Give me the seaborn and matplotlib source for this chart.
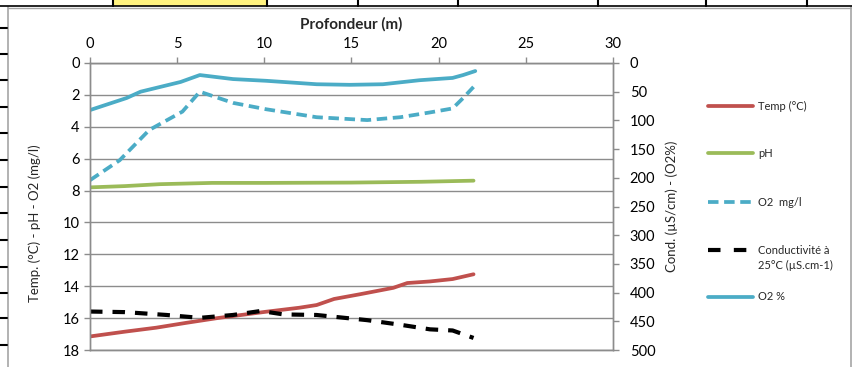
import matplotlib
matplotlib.use("Agg")
import matplotlib.pyplot as plt
import seaborn as sns
from matplotlib.lines import Line2D
from matplotlib.patches import Rectangle

# ---------------- data ----------------
depth_temp = [0, 2, 3.8, 5.5, 7.3, 10.1, 12, 13, 14, 15.5, 17.4, 18.2, 19.5, 20.8, 22]
temp = [17.15, 16.85, 16.6, 16.3, 16.0, 15.6, 15.35, 15.18, 14.8, 14.5, 14.1, 13.8, 13.7, 13.55, 13.25]

depth_ph = [0, 2, 4, 7, 10, 15, 19, 22]
ph = [7.8, 7.72, 7.6, 7.52, 7.52, 7.5, 7.45, 7.38]

depth_o2mg = [0, 1.7, 3.4, 5.3, 6.3, 8.2, 10.1, 13, 15.9, 17.8, 19.5, 20.8, 21.4, 22]
o2mg = [7.35, 6.1, 4.2, 3.05, 1.8, 2.5, 2.9, 3.4, 3.58, 3.4, 3.1, 2.85, 2.2, 1.5]

depth_cond = [0, 2, 4.4, 6.3, 8.2, 9.8, 11.1, 13, 15.9, 17.8, 19.5, 20.8, 22]
cond = [433, 434, 439, 444, 439, 432, 438, 439, 448, 456, 464, 466, 479]

depth_o2pct = [0, 2.1, 2.9, 5.2, 6.3, 8.2, 10.1, 13, 14.9, 16.8, 18.9, 20.8, 21.4, 22.1]
o2pct = [82, 61, 50, 33, 21, 28, 31, 37, 38, 37, 30, 26, 21, 14]

x_ticks = [0, 5, 10, 15, 20, 25, 30]
left_ticks = [0, 2, 4, 6, 8, 10, 12, 14, 16, 18]
right_ticks = [0, 50, 100, 150, 200, 250, 300, 350, 400, 450, 500]

labels = ["Temp (°C)", "pH", "O2  mg/l", "Conductivité à", "O2 %"]
cond_label_line2 = "25°C (µS.cm-1)"
colors = ["#C0504D", "#9BBB59", "#4BACC6", "#000000", "#4BACC6"]

# ---------------- figure ----------------
W, H = 853, 367
sns.set_theme(style="white")
plt.rcParams["font.family"] = ["Lato", "DejaVu Sans"]
fig = plt.figure(figsize=(W / 100, H / 100), dpi=100)


def fx(px):
    return px / W


def fy(py):
    return 1 - py / H


ax = fig.add_axes([fx(90), fy(350), fx(613) - fx(90), fy(63) - fy(350)])
ax2 = ax.twinx()

LW = 2.7
sns.lineplot(x=depth_temp, y=temp, ax=ax, color=colors[0], linewidth=LW)
sns.lineplot(x=depth_ph, y=ph, ax=ax, color=colors[1], linewidth=LW)
sns.lineplot(x=depth_o2mg, y=o2mg, ax=ax, color=colors[2], linewidth=LW)
ax.lines[-1].set_dashes([2.8, 1.5])
sns.lineplot(x=depth_cond, y=cond, ax=ax2, color=colors[3], linewidth=3.0)
ax2.lines[-1].set_dashes([3.0, 2.4])
sns.lineplot(x=depth_o2pct, y=o2pct, ax=ax2, color=colors[4], linewidth=LW)

ax.set_xlim(0, 30)
ax.set_ylim(18, 0)
ax2.set_ylim(500, 0)
ax.set_xticks(x_ticks)
ax.set_yticks(left_ticks)
ax2.set_yticks(right_ticks)

ax.xaxis.tick_top()
ax.xaxis.set_label_position("top")
ax.set_xlabel("Profondeur (m)", fontsize=11, fontweight="bold", labelpad=6)
ax.set_ylabel("Temp. (°C) - pH - O2 (mg/l)", fontsize=9.5)
ax.yaxis.set_label_coords(-0.093, 0.443)
ax2.set_ylabel("Cond. (µS/cm) - (O2%)", fontsize=9.5, labelpad=7)

ax.grid(axis="y", color="#8C8C8C", linewidth=1.0)
ax.set_axisbelow(True)
for a in (ax, ax2):
    for s in a.spines.values():
        s.set_color("#8C8C8C")
        s.set_linewidth(1.0)
    a.tick_params(colors="#8C8C8C", labelcolor="black", labelsize=10.5,
                  length=4, width=1, direction="out")
ax.tick_params(axis="x", top=True, bottom=False, pad=5)
ax.tick_params(axis="y", left=True, pad=3.5)
ax2.tick_params(axis="y", right=True, pad=8)

# legend (one entry per row, placed like the original)
handles = [
    Line2D([], [], color=colors[0], linewidth=LW),
    Line2D([], [], color=colors[1], linewidth=LW),
    Line2D([], [], color=colors[2], linewidth=LW, dashes=[2.8, 1.5]),
    Line2D([], [], color=colors[3], linewidth=3.0, dashes=[3.0, 3.2]),
    Line2D([], [], color=colors[4], linewidth=LW),
]
row_y = [106, 153, 202, 250, 297]
fs = 8.0
fpx = fs * 100 / 72
for h, lab, yy in zip(handles, labels, row_y):
    fig.legend([h], [lab], loc="center left", bbox_to_anchor=(fx(708), fy(yy)),
               frameon=False, fontsize=fs, handlelength=45 / fpx,
               handletextpad=5 / fpx, borderpad=0, borderaxespad=0)
fig.text(fx(758), fy(265), cond_label_line2, fontsize=fs, va="center", ha="left")

# spreadsheet-like frame decorations
fig.add_artist(Line2D([fx(8), fx(8)], [fy(7), fy(367)], color="#A6A6A6", linewidth=1.2))
fig.add_artist(Line2D([fx(851), fx(851)], [fy(7), fy(367)], color="#A6A6A6", linewidth=1.2))
fig.add_artist(Line2D([fx(8), fx(851)], [fy(7.5), fy(7.5)], color="#A6A6A6", linewidth=1.0))
fig.add_artist(Rectangle((fx(113), fy(6)), fx(267) - fx(113), fy(0) - fy(6),
                         facecolor="#FFF27F", edgecolor="none"))
fig.add_artist(Line2D([0, 1], [fy(5.5), fy(5.5)], color="black", linewidth=1.2))
for cx in [113, 267, 358, 458, 598, 706, 807]:
    fig.add_artist(Line2D([fx(cx), fx(cx)], [fy(0), fy(6)], color="black", linewidth=1.5))
for ry in [28, 54, 80, 107, 133, 160, 187, 213, 240, 267, 293, 318, 345]:
    fig.add_artist(Line2D([fx(0), fx(7)], [fy(ry), fy(ry)], color="black", linewidth=1.5))

fig.savefig("out.png", dpi=100)
